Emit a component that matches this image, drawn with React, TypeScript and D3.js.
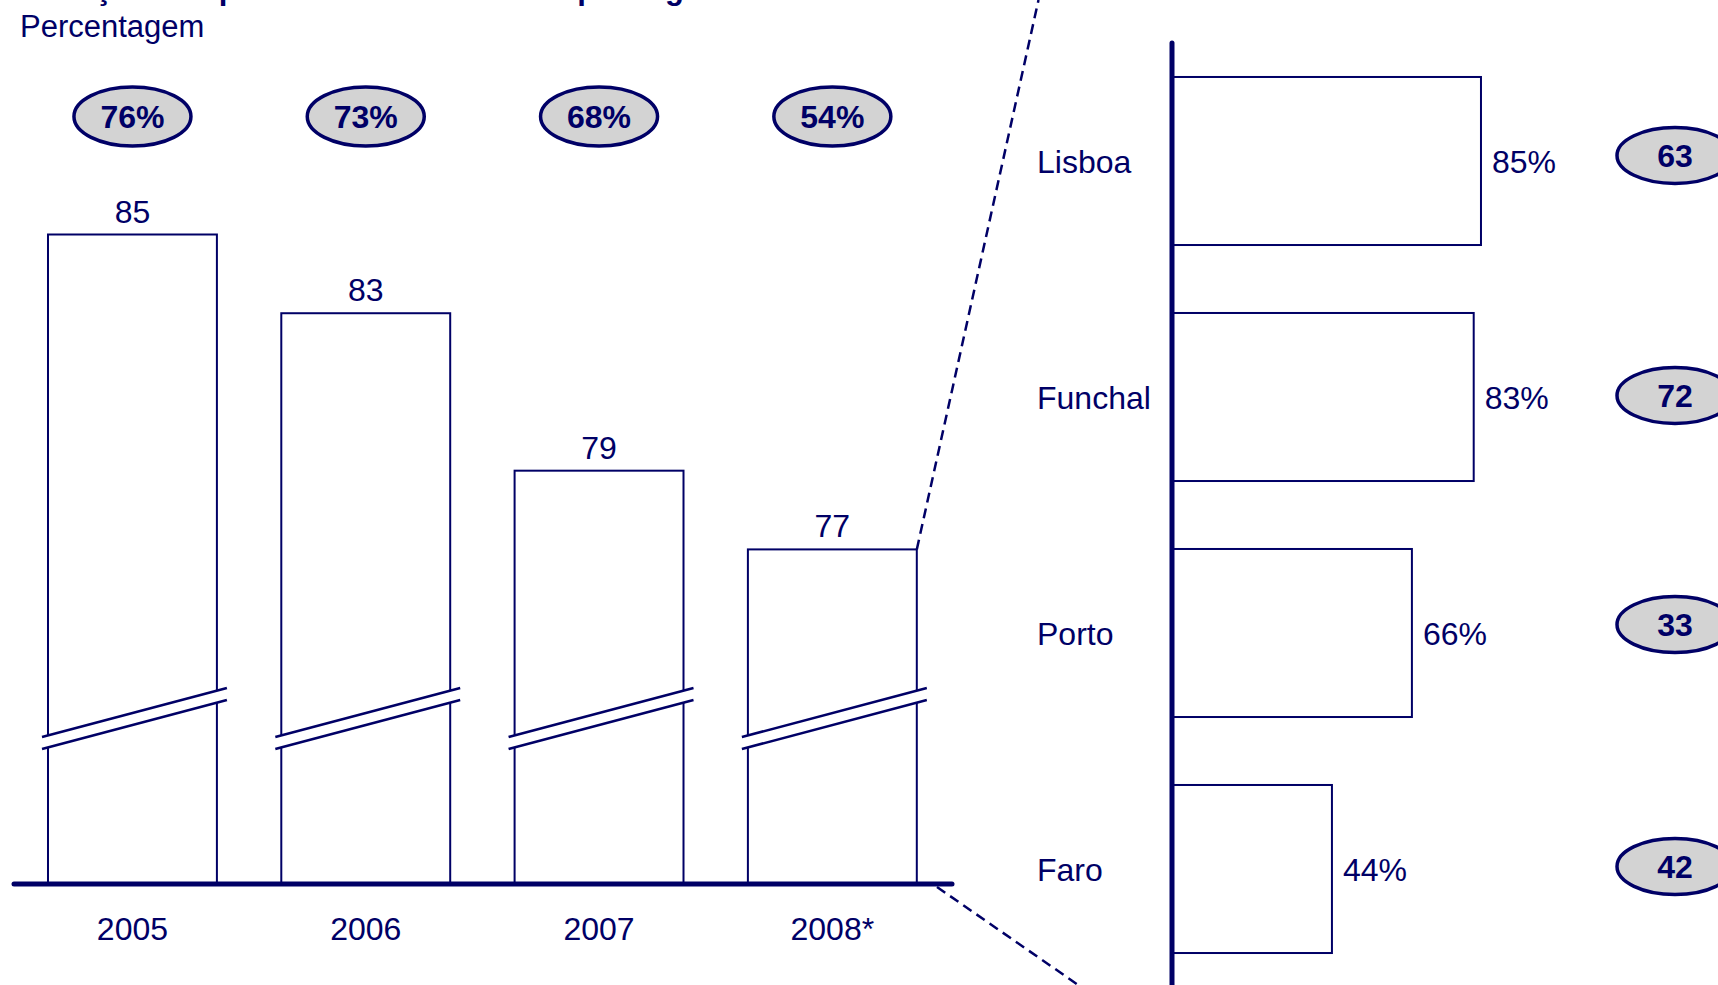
import React from "react";
import * as d3 from "d3";

const years = ["2005", "2006", "2007", "2008*"];
const yearValues = [85, 83, 79, 77];
const yearShares = ["76%", "73%", "68%", "54%"];

const cities = ["Lisboa", "Funchal", "Porto", "Faro"];
const cityValues = [85, 83, 66, 44];
const cityCounts = ["63", "72", "33", "42"];

// small vertical nudges of the badges on the right, as drawn in the original
const badgeNudge = [-5.5, -1.5, -8.5, -2.5];

const NAVY = "#000066";
const GREY = "#d3d3d3";
const FONT = "'Liberation Sans', Arial, Helvetica, sans-serif";

const W = 1718;
const H = 985;

export default function App() {
  // left chart: broken value axis, so the domain starts at the break
  const baseY = 884;
  const xBand = d3
    .scaleBand()
    .domain(years)
    .range([15.8, 949])
    .paddingInner(0.276)
    .paddingOuter(0.138);
  const yLin = d3.scaleLinear().domain([68.5, 85]).range([baseY, 234.5]);

  // right chart
  const yBand = d3
    .scaleBand()
    .domain(cities)
    .range([43, 987])
    .paddingInner(0.288)
    .paddingOuter(0.144);
  const xLin = d3.scaleLinear().domain([0, 100]).range([1172, 1535.5]);

  const lastX = (xBand(years[3]) as number) + xBand.bandwidth();
  const lastY = yLin(yearValues[3]);
  const topSlope = (1038.5 - lastX) / lastY;

  return (
    <svg
      width={W}
      height={H}
      style={{ position: "absolute", left: 0, top: 0, display: "block" }}
      fontFamily={FONT}
    >
      <rect width={W} height={H} fill="#fff" />

      {/* title, cut by the top edge */}
      <text x={20.7} y={-1} fontSize={31} fontWeight="bold" fill={NAVY}>
        Variação das partes de mercado total por região
      </text>
      <text x={20} y={37} fontSize={31} fill={NAVY}>
        Percentagem
      </text>

      {/* dashed zoom lines */}
      <line
        x1={lastX}
        y1={lastY}
        x2={lastX + topSlope * lastY}
        y2={0}
        stroke={NAVY}
        strokeWidth={2.5}
        strokeDasharray="10,6"
      />
      <line
        x1={937}
        y1={887}
        x2={1084}
        y2={989}
        stroke={NAVY}
        strokeWidth={2.5}
        strokeDasharray="10,6"
      />

      {/* left bars */}
      {years.map((yr, i) => {
        const x0 = xBand(yr) as number;
        const bw = xBand.bandwidth();
        const cx = x0 + bw / 2;
        const yTop = yLin(yearValues[i]);
        const l = x0 - 6;
        const r = x0 + bw + 10;
        return (
          <g key={yr}>
            <rect
              x={x0}
              y={yTop}
              width={bw}
              height={baseY - yTop}
              fill="#fff"
              stroke={NAVY}
              strokeWidth={2}
            />
            <polygon
              points={`${l},${737} ${r},${688} ${r},${700} ${l},${749}`}
              fill="#fff"
            />
            <line x1={l} y1={737} x2={r} y2={688} stroke={NAVY} strokeWidth={2.5} />
            <line x1={l} y1={749} x2={r} y2={700} stroke={NAVY} strokeWidth={2.5} />
            <text
              x={cx}
              y={yTop - 12}
              textAnchor="middle"
              fontSize={32}
              fill={NAVY}
            >
              {yearValues[i]}
            </text>
            <text x={cx} y={940} textAnchor="middle" fontSize={32} fill={NAVY}>
              {yr}
            </text>
            <ellipse
              cx={cx}
              cy={116.5}
              rx={58.5}
              ry={29.5}
              fill={GREY}
              stroke={NAVY}
              strokeWidth={3.5}
            />
            <text
              x={cx}
              y={128}
              textAnchor="middle"
              fontSize={32}
              fontWeight="bold"
              fill={NAVY}
            >
              {yearShares[i]}
            </text>
          </g>
        );
      })}
      <line
        x1={14}
        y1={baseY}
        x2={952}
        y2={baseY}
        stroke={NAVY}
        strokeWidth={5}
        strokeLinecap="round"
      />

      {/* right bars */}
      {cities.map((c, i) => {
        const y0 = yBand(c) as number;
        const bh = yBand.bandwidth();
        const cy = y0 + bh / 2;
        const by = cy + badgeNudge[i];
        const xEnd = xLin(cityValues[i]);
        return (
          <g key={c}>
            <rect
              x={xLin(0)}
              y={y0}
              width={xEnd - xLin(0)}
              height={bh}
              fill="#fff"
              stroke={NAVY}
              strokeWidth={2}
            />
            <text x={1037} y={cy + 12} fontSize={32} fill={NAVY}>
              {c}
            </text>
            <text x={xEnd + 11} y={cy + 12} fontSize={32} fill={NAVY}>
              {cityValues[i]}%
            </text>
            <ellipse
              cx={1675}
              cy={by}
              rx={58}
              ry={28}
              fill={GREY}
              stroke={NAVY}
              strokeWidth={3.5}
            />
            <text
              x={1675}
              y={by + 11.5}
              textAnchor="middle"
              fontSize={32}
              fontWeight="bold"
              fill={NAVY}
            >
              {cityCounts[i]}
            </text>
          </g>
        );
      })}
      <line
        x1={xLin(0)}
        y1={43}
        x2={xLin(0)}
        y2={H + 10}
        stroke={NAVY}
        strokeWidth={5}
        strokeLinecap="round"
      />
    </svg>
  );
}
